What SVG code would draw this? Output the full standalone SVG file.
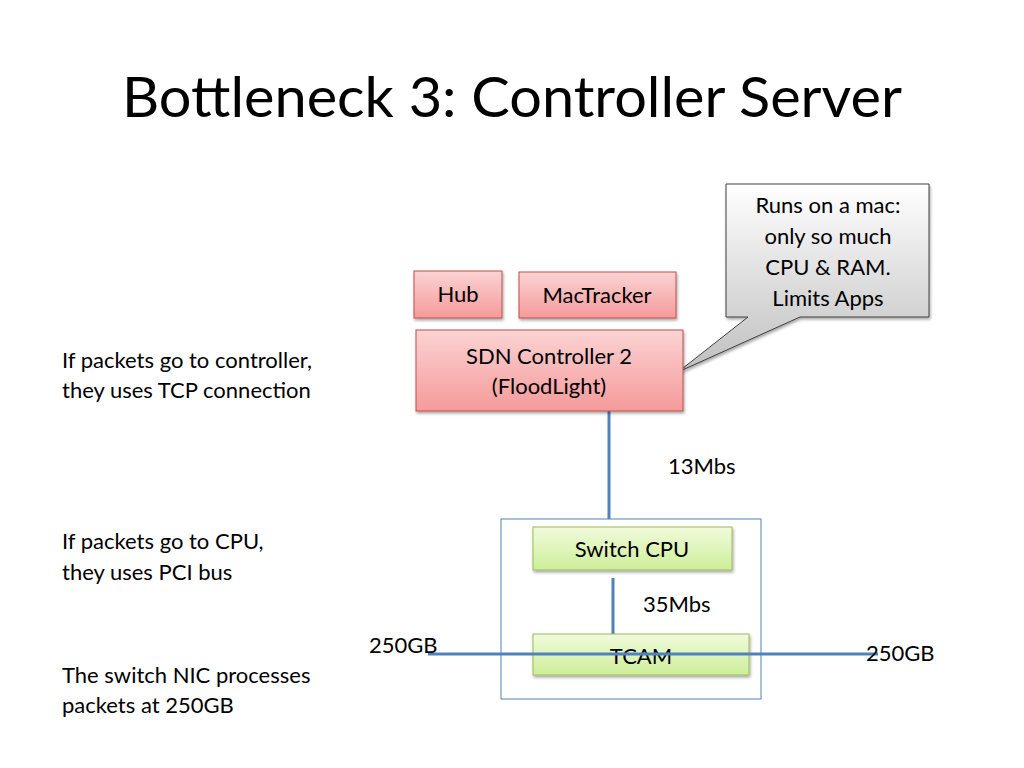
<svg xmlns="http://www.w3.org/2000/svg" width="1024" height="768" viewBox="0 0 1024 768">
<defs>
<linearGradient id="red" x1="0" y1="0" x2="0" y2="1"><stop offset="0" stop-color="#fbd3d3"/><stop offset="1" stop-color="#f59a9a"/></linearGradient>
<linearGradient id="grn" x1="0" y1="0" x2="0" y2="1"><stop offset="0" stop-color="#f1fbdc"/><stop offset="1" stop-color="#cdee99"/></linearGradient>
<linearGradient id="gry" x1="0" y1="0" x2="0" y2="1"><stop offset="0" stop-color="#ffffff"/><stop offset="1" stop-color="#bfbfbf"/></linearGradient>
<filter id="sh" x="-10%" y="-10%" width="130%" height="140%"><feDropShadow dx="1" dy="2" stdDeviation="1.5" flood-opacity="0.35"/></filter>
</defs>
<style>
text{font-family:Lato,"Open Sans","Liberation Sans",sans-serif;fill:#000}
.t{font-size:22px}
.r{fill:url(#red);stroke:#c0504d;stroke-width:1;filter:url(#sh)}
.g{fill:url(#grn);stroke:#9bbb59;stroke-width:1;filter:url(#sh)}
.c{stroke:#4f81bd;stroke-width:3;fill:none}
</style>
<rect width="1024" height="768" fill="#fff"/>
<text x="512" y="117" font-size="57" text-anchor="middle" textLength="780" lengthAdjust="spacingAndGlyphs">Bottleneck 3: Controller Server</text>
<g class="t">
<text x="62" y="368">If packets go to controller,</text>
<text x="62" y="398">they uses TCP connection</text>
<text x="62" y="549">If packets go to CPU,</text>
<text x="62" y="580">they uses PCI bus</text>
<text x="62" y="683">The switch NIC processes</text>
<text x="62" y="713">packets at 250GB</text>
</g>
<g id="container"><rect x="501" y="519" width="260" height="180" fill="none" stroke="#4f81bd" stroke-width="1"/></g>
<g id="connectors">
<line class="c" x1="609" y1="411" x2="609" y2="519"/>
<line class="c" x1="613" y1="578" x2="613" y2="634"/>
</g>
<g id="callout"><path d="M726,184 H929 V317 H800 L678,372 L748,317 H726 Z" fill="url(#gry)" stroke="#404040" stroke-width="1" filter="url(#sh)"/>
<g class="t" text-anchor="middle"><text x="828" y="213">Runs on a mac:</text><text x="828" y="244">only so much</text><text x="828" y="275">CPU &amp; RAM.</text><text x="828" y="306">Limits Apps</text></g></g>
<g id="hub"><rect class="r" x="414" y="271" width="88" height="47"/><text class="t" x="458" y="302" text-anchor="middle">Hub</text></g>
<g id="mactracker"><rect class="r" x="519" y="272" width="157" height="46"/><text class="t" x="597" y="303" text-anchor="middle">MacTracker</text></g>
<g id="sdn"><rect class="r" x="416" y="330" width="267" height="81"/><text class="t" x="549" y="364" text-anchor="middle">SDN Controller 2</text><text class="t" x="549" y="394" text-anchor="middle">(FloodLight)</text></g>
<g id="cpu"><rect class="g" x="533" y="527" width="199" height="43"/><text class="t" x="632" y="557" text-anchor="middle">Switch CPU</text></g>
<g id="tcam"><rect class="g" x="533" y="634" width="216" height="41"/><text class="t" x="641" y="664" text-anchor="middle">TCAM</text></g>
<g id="connectors2"><line class="c" x1="428" y1="654" x2="878" y2="654"/></g>
<g class="t">
<text x="668" y="474">13Mbs</text>
<text x="643" y="612">35Mbs</text>
<text x="369" y="653">250GB</text>
<text x="866" y="661">250GB</text>
</g>
</svg>
